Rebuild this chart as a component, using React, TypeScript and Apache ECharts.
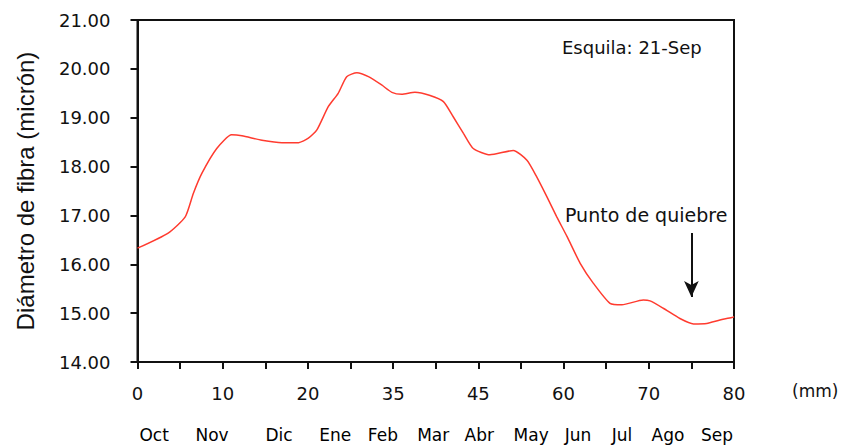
import React, { useEffect, useRef } from "react";
import * as echarts from "echarts";

// x positions in axis tick units (0..14), the mm labels sit on every second tick
const positions = [0, 0.72, 1.12, 1.31, 1.51, 1.86, 2.21, 2.45, 2.92, 3.39, 3.78, 4.01, 4.21, 4.48, 4.71, 4.91, 5.15, 5.42, 5.73, 5.97, 6.2, 6.51, 6.85, 7.18, 7.41, 7.65, 7.88, 8.27, 8.82, 9.14, 9.37, 9.61, 9.84, 10.08, 10.39, 10.7, 11.09, 11.37, 11.87, 12.03, 12.34, 12.73, 13.05, 13.36, 13.67, 13.95, 14];
const diameters = [16.33, 16.64, 16.97, 17.45, 17.86, 18.37, 18.65, 18.63, 18.54, 18.49, 18.49, 18.58, 18.75, 19.23, 19.5, 19.84, 19.92, 19.84, 19.67, 19.52, 19.48, 19.52, 19.46, 19.33, 19.02, 18.68, 18.37, 18.24, 18.33, 18.13, 17.79, 17.38, 16.97, 16.57, 16.02, 15.61, 15.2, 15.17, 15.27, 15.25, 15.1, 14.89, 14.78, 14.79, 14.86, 14.91, 14.93];
const mmLabels = ["0", "10", "20", "35", "45", "60", "70", "80"];
const months = ["Oct", "Nov", "Dic", "Ene", "Feb", "Mar", "Abr", "May", "Jun", "Jul", "Ago", "Sep"];
const monthPositions = [0.39, 1.75, 3.32, 4.64, 5.76, 6.94, 8.02, 9.24, 10.34, 11.37, 12.45, 13.6];
const breakPoint = { x: 13, yFrom: 16.64, yTo: 15.33 };

export default function App() {
  const ref = useRef<HTMLDivElement>(null);
  useEffect(() => {
    if (!ref.current) return;
    const chart = echarts.init(ref.current, null, { renderer: "svg" });
    const data = positions.map((p, i) => [p, diameters[i]]);
    chart.setOption({
      animation: false,
      backgroundColor: "#fff",
      grid: {
        left: 137.5,
        right: 109,
        top: 20,
        bottom: 86,
        show: true,
        borderColor: "#111",
        borderWidth: 2,
        backgroundColor: "transparent",
      },
      xAxis: [
        {
          type: "value",
          min: 0,
          max: 14,
          interval: 1,
          axisLine: { show: true, onZero: false, lineStyle: { color: "#111", width: 2 } },
          axisTick: { show: true, inside: false, length: 7, lineStyle: { color: "#111", width: 2 } },
          splitLine: { show: false },
          axisLabel: {
            margin: 22,
            color: "#111",
            fontSize: 18,
            fontFamily: "DejaVu Sans",
            formatter: (v: number) => (Math.round(v) % 2 === 0 ? mmLabels[Math.round(v) / 2] : ""),
          },
        },
        {
          type: "value",
          min: 0,
          max: 14,
          position: "bottom",
          axisLine: { show: false },
          axisTick: { show: false },
          splitLine: { show: false },
          axisLabel: {
            customValues: monthPositions,
            margin: 64,
            color: "#000",
            fontSize: 17,
            fontFamily: "DejaVu Sans",
            formatter: (v: number) => {
              let best = 0;
              monthPositions.forEach((p, i) => {
                if (Math.abs(p - v) < Math.abs(monthPositions[best] - v)) best = i;
              });
              return months[best];
            },
          },
        },
      ],
      yAxis: {
        type: "value",
        min: 14,
        max: 21,
        interval: 1,
        name: "Diámetro de fibra (micrón)",
        nameLocation: "middle",
        nameGap: 100,
        nameTextStyle: { fontSize: 24, fontFamily: "Liberation Sans", color: "#111" },
        axisLine: { show: true, lineStyle: { color: "#111", width: 2 } },
        axisTick: { show: true, inside: false, length: 7, lineStyle: { color: "#111", width: 2 } },
        splitLine: { show: false },
        axisLabel: {
          margin: 27,
          color: "#111",
          fontSize: 18,
          fontFamily: "DejaVu Sans",
          formatter: (v: number) => v.toFixed(2),
        },
      },
      series: [
        {
          type: "line",
          data,
          xAxisIndex: 0,
          showSymbol: false,
          smooth: 0.2,
          lineStyle: { color: "#ff3b2f", width: 1.5 },
          markLine: {
            silent: true,
            symbol: ["none", "arrow"],
            symbolSize: [11, 16],
            label: { show: false },
            lineStyle: { color: "#111", width: 2, type: "solid" },
            data: [[{ coord: [breakPoint.x, breakPoint.yFrom] }, { coord: [breakPoint.x, breakPoint.yTo] }]],
          },
        },
      ],
      graphic: [
        {
          type: "text",
          left: 562,
          top: 38,
          style: { text: "Esquila: 21-Sep", fontSize: 18, fontFamily: "DejaVu Sans", fill: "#111" },
        },
        {
          type: "text",
          left: 565,
          top: 205,
          style: { text: "Punto de quiebre", fontSize: 19, fontFamily: "DejaVu Sans", fill: "#111" },
        },
        {
          type: "text",
          left: 792,
          top: 382,
          style: { text: "(mm)", fontSize: 17, fontFamily: "DejaVu Sans", fill: "#111" },
        },
      ],
    });
    return () => chart.dispose();
  }, []);
  return <div ref={ref} style={{ width: 843, height: 448, position: "absolute", left: 0, top: 0 }} />;
}
